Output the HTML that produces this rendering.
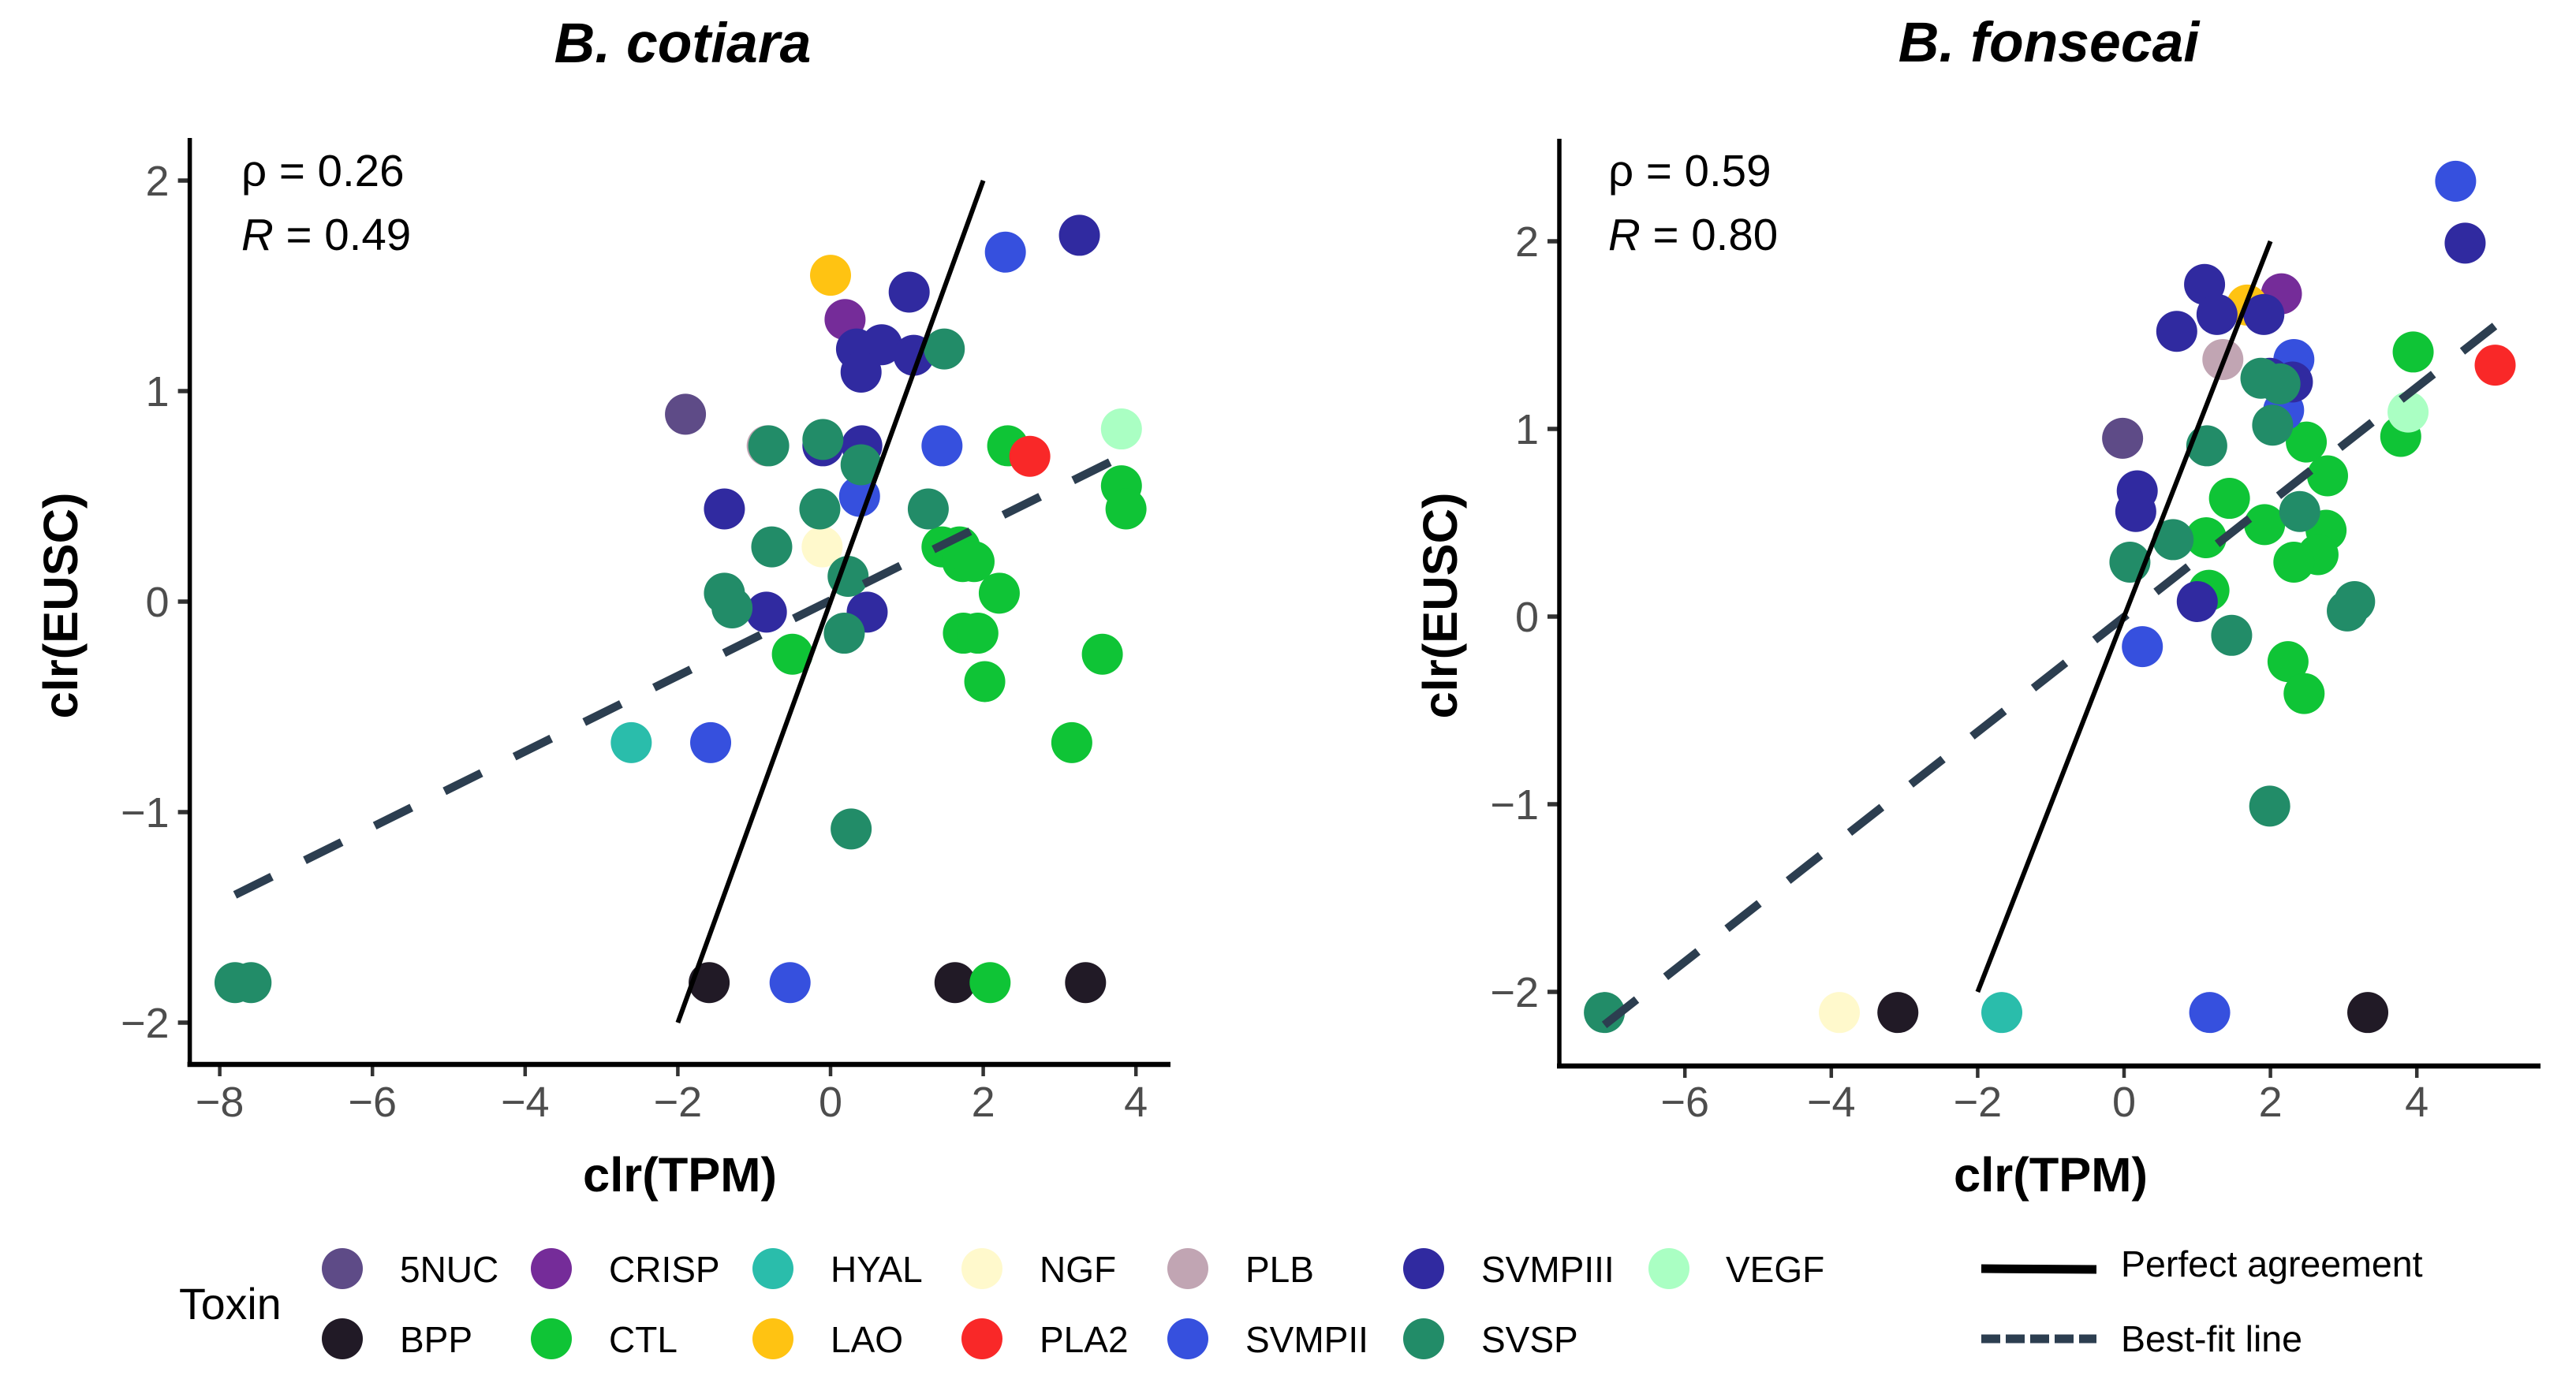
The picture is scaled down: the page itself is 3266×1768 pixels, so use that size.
<!DOCTYPE html>
<html lang="en">
<head>
<meta charset="utf-8">
<title>clr(EUSC) vs clr(TPM) for B. cotiara and B. fonsecai</title>
<style>
html,body{margin:0;padding:0;background:#fff;}
svg{display:block;}
text{font-family:"Liberation Sans",Arial,sans-serif;}
</style>
</head>
<body>
<svg id="figure" xmlns="http://www.w3.org/2000/svg" width="3266" height="1768" viewBox="0 0 3266 1768">
  <rect x="0" y="0" width="3266" height="1768" fill="#fff"/>
  <text x="865.5" y="79" font-size="71.5" font-weight="bold" font-style="italic" text-anchor="middle">B. cotiara</text>
  <text x="2597.5" y="78" font-size="71.5" font-weight="bold" font-style="italic" text-anchor="middle">B. fonsecai</text>

  <g id="panel-left"></g>
  <g id="panel-right"></g>

  <text x="862" y="1511" font-size="61.5" font-weight="bold" text-anchor="middle">clr(TPM)</text>
  <text x="2600" y="1511" font-size="61.5" font-weight="bold" text-anchor="middle">clr(TPM)</text>
  <text transform="translate(98,768) rotate(-90)" font-size="61.5" font-weight="bold" text-anchor="middle">clr(EUSC)</text>
  <text transform="translate(1847,768) rotate(-90)" font-size="61.5" font-weight="bold" text-anchor="middle">clr(EUSC)</text>

  <text x="306" y="236" font-size="56.5">ρ = 0.26</text>
  <text x="306" y="317" font-size="56.5"><tspan font-style="italic">R</tspan> = 0.49</text>
  <text x="2039" y="236" font-size="56.5">ρ = 0.59</text>
  <text x="2039" y="317" font-size="56.5"><tspan font-style="italic">R</tspan> = 0.80</text>

  <g font-size="46">
    <text x="227" y="1673" font-size="55.5">Toxin</text>
    <circle cx="434" cy="1609" r="26" fill="#5E4B87"/>
    <text x="507" y="1626">5NUC</text>
    <circle cx="434" cy="1698" r="26" fill="#211A26"/>
    <text x="507" y="1715">BPP</text>
    <circle cx="699" cy="1609" r="26" fill="#752C99"/>
    <text x="772" y="1626">CRISP</text>
    <circle cx="699" cy="1698" r="26" fill="#0FC436"/>
    <text x="772" y="1715">CTL</text>
    <circle cx="980" cy="1609" r="26" fill="#2ABDAB"/>
    <text x="1053" y="1626">HYAL</text>
    <circle cx="980" cy="1698" r="26" fill="#FFC312"/>
    <text x="1053" y="1715">LAO</text>
    <circle cx="1245" cy="1609" r="26" fill="#FFF9CC"/>
    <text x="1318" y="1626">NGF</text>
    <circle cx="1245" cy="1698" r="26" fill="#F92828"/>
    <text x="1318" y="1715">PLA2</text>
    <circle cx="1506" cy="1609" r="26" fill="#C1A5B3"/>
    <text x="1579" y="1626">PLB</text>
    <circle cx="1506" cy="1698" r="26" fill="#3650DE"/>
    <text x="1579" y="1715">SVMPII</text>
    <circle cx="1805" cy="1609" r="26" fill="#302AA0"/>
    <text x="1878" y="1626">SVMPIII</text>
    <circle cx="1805" cy="1698" r="26" fill="#228C68"/>
    <text x="1878" y="1715">SVSP</text>
    <circle cx="2116" cy="1609" r="26" fill="#AAFFC3"/>
    <text x="2188" y="1626">VEGF</text>
  </g>
  <g font-size="46.5">
    <line x1="2512" y1="1609" x2="2658" y2="1610" stroke="#000" stroke-width="11"/>
    <text x="2689" y="1619">Perfect agreement</text>
    <line x1="2512" y1="1698" x2="2658" y2="1698" stroke="#2C3E50" stroke-width="11" stroke-dasharray="24 7"/>
    <text x="2689" y="1714">Best-fit line</text>
  </g>
</svg>
<script>
// ---- Data ----
const toxinOrder = ['5NUC','BPP','CRISP','CTL','HYAL','LAO','NGF','PLA2','PLB','SVMPII','SVMPIII','SVSP','VEGF'];
const agreementEnds = [-2, 2];

const cotiaraTicksX = [-8,-6,-4,-2,0,2,4];
const cotiaraTicksY = [-2,-1,0,1,2];
const cotiaraToxin = ['5NUC','BPP','BPP','BPP','CRISP',
  'CTL','CTL','CTL','CTL','CTL','CTL','CTL','CTL','CTL','CTL','CTL','CTL','CTL','CTL','CTL',
  'HYAL','LAO','NGF','PLA2','PLB',
  'SVMPII','SVMPII','SVMPII','SVMPII','SVMPII',
  'SVMPIII','SVMPIII','SVMPIII','SVMPIII','SVMPIII','SVMPIII','SVMPIII','SVMPIII','SVMPIII','SVMPIII','SVMPIII',
  'SVSP','SVSP','SVSP','SVSP','SVSP','SVSP','SVSP','SVSP','SVSP','SVSP','SVSP','SVSP','SVSP','SVSP',
  'VEGF'];
const cotiaraTpm = [-1.90,-1.59,1.63,3.34,0.19,
  2.32,3.81,3.87,1.46,1.69,1.73,1.88,2.21,1.74,1.93,-0.50,3.56,2.02,3.16,2.09,
  -2.61,0.00,-0.11,2.61,-0.83,
  2.29,1.46,0.38,-1.57,-0.53,
  1.03,3.26,0.34,0.67,1.09,0.40,0.41,-0.10,-1.39,-0.84,0.48,
  1.49,-0.81,-0.10,0.40,-0.14,1.28,-0.77,0.23,-1.39,-1.29,0.18,0.27,-7.80,-7.59,
  3.81];
const cotiaraEusc = [0.89,-1.81,-1.81,-1.81,1.34,
  0.74,0.55,0.44,0.26,0.26,0.19,0.19,0.04,-0.15,-0.15,-0.25,-0.25,-0.38,-0.67,-1.81,
  -0.67,1.55,0.26,0.69,0.74,
  1.66,0.74,0.50,-0.67,-1.81,
  1.47,1.74,1.20,1.22,1.17,1.09,0.74,0.74,0.44,-0.05,-0.05,
  1.20,0.74,0.77,0.65,0.44,0.44,0.26,0.12,0.04,-0.03,-0.15,-1.08,-1.81,-1.81,
  0.82];
const cotiaraFitX = [-7.80, 3.87];
const cotiaraFitY = [-1.393, 0.70];

const fonsecaiTicksX = [-6,-4,-2,0,2,4];
const fonsecaiTicksY = [-2,-1,0,1,2];
const fonsecaiToxin = ['5NUC','BPP','BPP','CRISP',
  'CTL','CTL','CTL','CTL','CTL','CTL','CTL','CTL','CTL','CTL','CTL','CTL','CTL',
  'HYAL','LAO','NGF','PLA2','PLB',
  'SVMPII','SVMPII','SVMPII','SVMPII','SVMPII',
  'SVMPIII','SVMPIII','SVMPIII','SVMPIII','SVMPIII','SVMPIII','SVMPIII','SVMPIII','SVMPIII','SVMPIII',
  'SVSP','SVSP','SVSP','SVSP','SVSP','SVSP','SVSP','SVSP','SVSP','SVSP','SVSP','SVSP',
  'VEGF'];
const fonsecaiTpm = [-0.02,-3.09,3.33,2.15,
  3.95,3.78,2.49,2.78,1.44,1.92,2.76,1.12,2.65,2.32,1.16,2.24,2.46,
  -1.67,1.68,-3.89,5.07,1.35,
  4.53,2.32,2.18,0.25,1.17,
  4.66,1.10,1.27,1.91,0.72,1.99,2.30,0.18,0.16,1.00,
  1.87,2.13,2.03,1.13,2.40,0.67,0.08,3.15,3.05,1.47,1.99,-7.10,
  3.88];
const fonsecaiEusc = [0.95,-2.11,-2.11,1.72,
  1.41,0.96,0.93,0.75,0.63,0.49,0.46,0.42,0.33,0.29,0.14,-0.24,-0.41,
  -2.11,1.66,-2.11,1.34,1.37,
  2.32,1.37,1.10,-0.16,-2.11,
  1.99,1.77,1.61,1.61,1.52,1.27,1.25,0.67,0.56,0.08,
  1.27,1.24,1.02,0.91,0.56,0.41,0.29,0.08,0.03,-0.10,-1.01,-2.11,
  1.09];
const fonsecaiFitX = [-7.10, 5.07];
const fonsecaiFitY = [-2.176, 1.55];

// ---- Rendering ----
const palette = {'5NUC':'#5E4B87','BPP':'#211A26','CRISP':'#752C99','CTL':'#0FC436','HYAL':'#2ABDAB','LAO':'#FFC312','NGF':'#FFF9CC','PLA2':'#F92828','PLB':'#C1A5B3','SVMPII':'#3650DE','SVMPIII':'#302AA0','SVSP':'#228C68','VEGF':'#AAFFC3'};
const SVGNS = 'http://www.w3.org/2000/svg';

function make(parent, tag) {
  const el = document.createElementNS(SVGNS, tag);
  parent.appendChild(el);
  return el;
}
function setLine(el, x1, y1, x2, y2, stroke, width) {
  el.setAttribute('x1', x1);
  el.setAttribute('y1', y1);
  el.setAttribute('x2', x2);
  el.setAttribute('y2', y2);
  el.setAttribute('stroke', stroke);
  el.setAttribute('stroke-width', width);
}
function fmtTick(v) {
  return v < 0 ? '\u2212' + Math.abs(v) : String(v);
}

function drawPanel(root, sx, sy, frame, ticksX, ticksY, toxin, tpm, eusc, fitX, fitY) {
  // points, drawn in factor order
  toxinOrder.forEach(function (name) {
    toxin.forEach(function (t, i) {
      if (t !== name) return;
      const c = make(root, 'circle');
      
      
      c.setAttribute('cx', sx(tpm[i]));
      c.setAttribute('cy', sy(eusc[i]));
      c.setAttribute('r', 26);
      c.setAttribute('fill', palette[name]);
    });
  });

  // best-fit line
  const fit = make(root, 'line');
  
  
  setLine(fit, sx(fitX[0]), sy(fitY[0]), sx(fitX[1]), sy(fitY[1]), '#2C3E50', 10.5);
  fit.setAttribute('stroke-dasharray', '52 46.8');

  // perfect agreement line
  const ref = make(root, 'line');
  
  
  setLine(ref, sx(agreementEnds[0]), sy(agreementEnds[0]), sx(agreementEnds[1]), sy(agreementEnds[1]), '#000', 6);

  // x ticks
  ticksX.forEach(function (v) {
    const t = make(root, 'line');
    
    
    setLine(t, sx(v), frame.bottom, sx(v), frame.bottom + 15, '#333', 4.5);
    const l = make(root, 'text');
    
    
    l.setAttribute('x', sx(v));
    l.setAttribute('y', 1416);
    l.setAttribute('font-size', 54);
    l.setAttribute('fill', '#4D4D4D');
    l.setAttribute('text-anchor', 'middle');
    l.textContent = fmtTick(v);
  });

  // y ticks
  ticksY.forEach(function (v) {
    const t = make(root, 'line');
    
    
    setLine(t, frame.left - 15, sy(v), frame.left, sy(v), '#333', 5.5);
    const l = make(root, 'text');
    
    
    l.setAttribute('x', frame.left - 26);
    l.setAttribute('y', sy(v) + 19);
    l.setAttribute('font-size', 54);
    l.setAttribute('fill', '#4D4D4D');
    l.setAttribute('text-anchor', 'end');
    l.textContent = fmtTick(v);
  });

  // axis lines
  const ya = make(root, 'line');
  
  
  setLine(ya, frame.left, frame.top, frame.left, frame.bottom + 3, '#000', 5.5);
  const xa = make(root, 'line');
  
  
  setLine(xa, frame.left - 3, frame.bottom, frame.right, frame.bottom, '#000', 6.6);
}

function xCotiara(v) { return 1053 + 96.8 * v; }
function yCotiara(v) { return 763 - 267 * v; }
function xFonsecai(v) { return 2693 + 92.8 * v; }
function yFonsecai(v) { return 782 - 238 * v; }

drawPanel(document.getElementById('panel-left'), xCotiara, yCotiara,
  {left: 240.6, top: 175, bottom: 1350, right: 1484},
  cotiaraTicksX, cotiaraTicksY, cotiaraToxin, cotiaraTpm, cotiaraEusc, cotiaraFitX, cotiaraFitY);
drawPanel(document.getElementById('panel-right'), xFonsecai, yFonsecai,
  {left: 1977, top: 176, bottom: 1352, right: 3221},
  fonsecaiTicksX, fonsecaiTicksY, fonsecaiToxin, fonsecaiTpm, fonsecaiEusc, fonsecaiFitX, fonsecaiFitY);
</script>
</body>
</html>
